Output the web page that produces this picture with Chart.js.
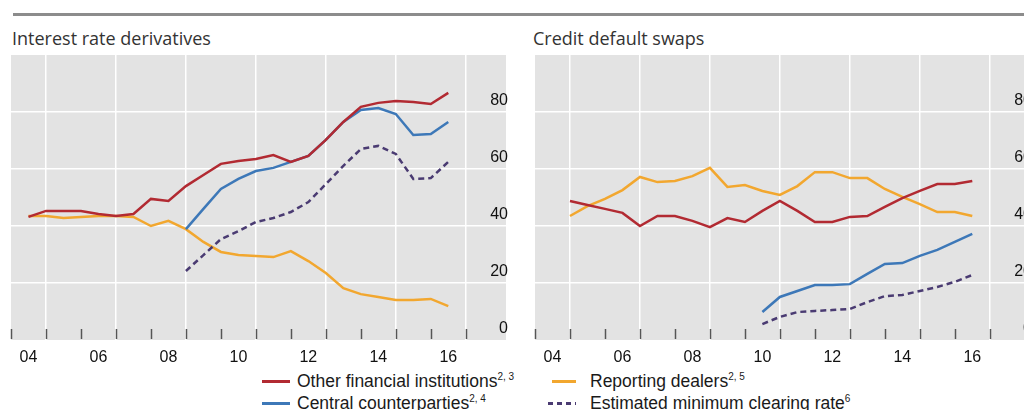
<!DOCTYPE html>
<html>
<head>
<meta charset="utf-8">
<script src="https://cdn.jsdelivr.net/npm/chart.js@4.4.1/dist/chart.umd.min.js"></script>
<style>
  body { margin: 0; width: 1024px; height: 410px; overflow: hidden; background: #fff; position: relative;
         font-family: "Liberation Sans", Arial, sans-serif; }
  .rule { position: absolute; left: 13px; right: 0; top: 13px; height: 3px; background: #8c8c8c; }
  .title { position: absolute; top: 26px; font: 18px "Open Sans", sans-serif; color: #333; }
  .panel { position: absolute; top: 0; width: 520px; height: 370px; }
  .legend { position: absolute; top: 370px; font-size: 17.5px; color: #1a1a1a; }
  .legend .row { position: relative; height: 22px; line-height: 22px; white-space: nowrap; }
  .legend .swatch { position: absolute; top: 10px; height: 3px; }
  .legend sup { font-size: 10px; line-height: 0; }
</style>
</head>
<body>
<div class="rule"></div>
<div class="title" style="left:12px">Interest rate derivatives</div>
<div class="title" style="left:533px">Credit default swaps</div>

<div class="panel" style="left:0"><canvas id="irdChart"></canvas></div>
<div class="panel" style="left:524px"><canvas id="cdsChart"></canvas></div>

<div class="legend" style="left:262px">
  <div class="row"><span class="swatch" style="left:0;width:28px;background:#b22a32"></span><span style="margin-left:35px">Other financial institutions<sup>2, 3</sup></span></div>
  <div class="row"><span class="swatch" style="left:0;width:28px;background:#3d78b8"></span><span style="margin-left:35px">Central counterparties<sup>2, 4</sup></span></div>
</div>
<div class="legend" style="left:548px">
  <div class="row"><span class="swatch" style="left:4px;width:24px;background:#f2a72f"></span><span style="margin-left:42px">Reporting dealers<sup>2, 5</sup></span></div>
  <div class="row"><span class="swatch" style="left:0;width:28px;background:repeating-linear-gradient(to right,#4a3b72 0 5px,transparent 5px 9px)"></span><span style="margin-left:42px">Estimated minimum clearing rate<sup>6</sup></span></div>
</div>

<script>
// half-year end points, as fractional years
const irdPeriods = [2004.5, 2005.0, 2005.5, 2006.0, 2006.5, 2007.0, 2007.5, 2008.0, 2008.5,
  2009.0, 2009.5, 2010.0, 2010.5, 2011.0, 2011.5, 2012.0, 2012.5, 2013.0, 2013.5,
  2014.0, 2014.5, 2015.0, 2015.5, 2016.0, 2016.5];
const cdsPeriods = [2005.0, 2005.5, 2006.0, 2006.5, 2007.0, 2007.5, 2008.0, 2008.5,
  2009.0, 2009.5, 2010.0, 2010.5, 2011.0, 2011.5, 2012.0, 2012.5, 2013.0, 2013.5,
  2014.0, 2014.5, 2015.0, 2015.5, 2016.0, 2016.5];

// Interest rate derivatives, per cent
const irdOther = [43.2, 45.3, 45.3, 45.3, 44.2, 43.5, 44.2, 49.5, 48.8, 54.0, 57.9, 61.8, 62.8,
  63.5, 64.9, 62.5, 64.6, 70.2, 76.5, 81.8, 83.2, 83.9, 83.5, 82.8, 86.7];
const irdDealers = [43.5, 43.5, 42.8, 43.2, 43.5, 43.5, 43.2, 40.0, 41.8, 38.9, 34.4, 30.9, 29.8,
  29.5, 29.1, 31.2, 27.7, 23.5, 18.2, 16.1, 15.1, 14.0, 14.0, 14.4, 11.9];
const irdCcp = [null, null, null, null, null, null, null, null, null,
  38.9, 46.0, 53.0, 56.5, 59.3, 60.4, 62.5, 64.6, 70.2, 76.5, 80.7, 81.4, 79.3, 71.9, 72.3, 76.5];
const irdClearing = [null, null, null, null, null, null, null, null, null,
  24.2, 29.8, 35.4, 38.2, 41.4, 42.8, 44.9, 48.4, 54.7, 61.1, 67.0, 68.1, 65.3, 56.5, 56.8, 62.5];

// Credit default swaps, per cent
const cdsOther = [48.8, 47.4, 46.0, 44.6, 40.0, 43.5, 43.5, 41.8, 39.6, 42.8, 41.4, 45.3,
  48.8, 45.3, 41.4, 41.4, 43.2, 43.5, 46.7, 49.8, 52.3, 54.7, 54.7, 55.8];
const cdsDealers = [43.5, 47.0, 49.5, 52.6, 57.2, 55.4, 55.8, 57.5, 60.4, 53.7, 54.4, 52.3,
  50.9, 54.0, 58.9, 58.9, 56.8, 56.8, 53.0, 50.2, 47.7, 44.9, 44.9, 43.5];
const cdsCcp = [null, null, null, null, null, null, null, null, null, null, null,
  9.8, 15.1, 17.2, 19.3, 19.3, 19.6, 23.2, 26.7, 27.0, 29.5, 31.6, 34.4, 37.2];
const cdsClearing = [null, null, null, null, null, null, null, null, null, null, null,
  5.6, 8.1, 9.8, 10.2, 10.5, 10.9, 13.3, 15.4, 15.8, 17.2, 18.6, 20.4, 22.8];

// axis furniture
const xLabelYears = [2004.5, 2006.5, 2008.5, 2010.5, 2012.5, 2014.5, 2016.5];
const xLabels = ["04", "06", "08", "10", "12", "14", "16"];
const gridYears = [2005, 2007, 2009, 2011, 2013, 2015, 2017];
const yearMarks = [2004, 2005, 2006, 2007, 2008, 2009, 2010, 2011, 2012, 2013, 2014, 2015, 2016, 2017];
const yTicks = [0, 20, 40, 60, 80, 100];

const RED = "#b22a32", BLUE = "#3d78b8", GOLD = "#f2a72f", PURPLE = "#4a3b72";
const tickFont = { family: "'Liberation Sans', Arial, sans-serif", size: 16 };

const panelBackdrop = {
  id: "panelBackdrop",
  beforeDraw(chart) {
    const { ctx, chartArea: a } = chart;
    ctx.save();
    ctx.fillStyle = "#e3e3e3";
    ctx.fillRect(a.left, a.top, a.right - a.left, a.bottom - a.top);
    ctx.restore();
  },
  beforeDatasetsDraw(chart) {
    const { ctx, chartArea: a, scales: { x } } = chart;
    ctx.save();
    ctx.strokeStyle = "#555";
    ctx.lineWidth = 1.5;
    yearMarks.forEach(yr => {
      const px = Math.round(x.getPixelForValue(yr)) + 0.5;
      ctx.beginPath();
      ctx.moveTo(px, a.bottom - 11);
      ctx.lineTo(px, a.bottom - 1);
      ctx.stroke();
    });
    ctx.restore();
  }
};

function toPoints(periods, values) {
  return periods.map((p, i) => ({ x: p, y: values[i] }));
}

function line(label, periods, values, color, dashed) {
  return {
    label,
    data: toPoints(periods, values),
    borderColor: color,
    borderWidth: 2.5,
    borderDash: dashed ? [6, 4] : [],
    pointRadius: 0,
    fill: false,
    tension: 0
  };
}

function makeChart(id, periods, other, dealers, ccp, clearing) {
  const ctx = document.getElementById(id).getContext("2d");
  return new Chart(ctx, {
    type: "line",
    data: {
      datasets: [
        line("Estimated minimum clearing rate", periods, clearing, PURPLE, true),
        line("Other financial institutions", periods, other, RED),
        line("Central counterparties", periods, ccp, BLUE),
        line("Reporting dealers", periods, dealers, GOLD)
      ]
    },
    options: {
      responsive: true,
      maintainAspectRatio: false,
      animation: false,
      events: [],
      layout: { padding: { top: 55, left: 11, right: 10, bottom: 0 } },
      plugins: { legend: { display: false }, tooltip: { enabled: false } },
      scales: {
        x: {
          type: "linear",
          min: 2004,
          max: 2018.15,
          afterBuildTicks: s => { s.ticks = xLabelYears.concat(gridYears).map(v => ({ value: v })); },
          afterFit: s => { s.height = 30; },
          border: { display: false },
          grid: {
            drawTicks: false,
            lineWidth: 1.5,
            color: c => gridYears.includes(c.tick.value) ? "#ffffff" : "rgba(0,0,0,0)"
          },
          ticks: {
            autoSkip: false,
            maxRotation: 0,
            padding: 8,
            color: "#111",
            font: tickFont,
            callback: v => {
              const i = xLabelYears.indexOf(v);
              return i >= 0 ? xLabels[i] : "";
            }
          }
        },
        y: {
          position: "right",
          min: 0,
          max: 100,
          afterBuildTicks: s => { s.ticks = yTicks.map(v => ({ value: v })); },
          border: { display: false },
          grid: {
            drawTicks: false,
            lineWidth: 1.5,
            color: c => (c.tick.value > 0 && c.tick.value < 100) ? "#ffffff" : "rgba(0,0,0,0)"
          },
          ticks: {
            mirror: true,
            padding: 2,
            labelOffset: -11,
            color: "#111",
            font: tickFont,
            callback: v => v === 100 ? "" : String(v)
          }
        }
      }
    },
    plugins: [panelBackdrop]
  });
}

makeChart("irdChart", irdPeriods, irdOther, irdDealers, irdCcp, irdClearing);
makeChart("cdsChart", cdsPeriods, cdsOther, cdsDealers, cdsCcp, cdsClearing);
</script>
</body>
</html>
